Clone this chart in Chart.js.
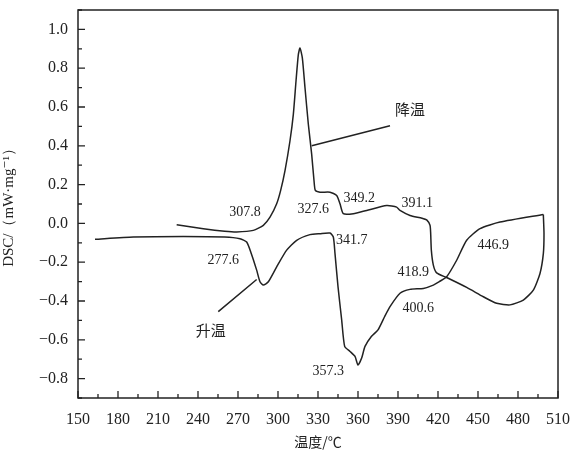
<!DOCTYPE html>
<html>
<head>
<meta charset="utf-8">
<script src="https://cdn.jsdelivr.net/npm/chart.js@4"></script>
<style>
  html, body { margin: 0; padding: 0; background: #fff; }
  #wrap { width: 574px; height: 450px; }
</style>
</head>
<body>
<div id="wrap"><canvas id="graficoDSC" width="574" height="450"></canvas></div>
<script>
// Curva de aquecimento (升温): temperatura (°C) e DSC (mW/mg)
const aquecT = [162.75, 191.5, 229, 260, 271.5, 276.5, 280, 284, 286.5, 289, 292.75, 299, 306.5, 314, 324, 331.5, 339, 341.5, 342.75, 345, 347.75, 350, 354, 357.75, 360, 362.75, 365.25, 370, 375, 380, 384, 391.5, 399, 409, 416.5, 421, 426.5, 434, 441.5, 451.5, 466.5, 499];
const aquecDSC = [-0.082, -0.07, -0.067, -0.07, -0.079, -0.096, -0.156, -0.241, -0.301, -0.318, -0.301, -0.224, -0.138, -0.087, -0.058, -0.053, -0.05, -0.07, -0.156, -0.326, -0.497, -0.634, -0.66, -0.686, -0.73, -0.694, -0.634, -0.583, -0.549, -0.48, -0.429, -0.36, -0.34, -0.335, -0.318, -0.3, -0.275, -0.19, -0.087, -0.027, 0.007, 0.046];

// Curva de resfriamento (降温)
const resfT = [224, 244, 260, 269, 281.5, 289, 294, 299, 302, 305.25, 309, 311.5, 313.5, 315.25, 316.5, 318.25, 320.25, 322.75, 325.25, 327, 328, 331.5, 339, 344, 346.5, 349, 356.5, 366.5, 381.5, 389, 391.5, 399, 408, 411.5, 414, 414.5, 415, 416.5, 419, 426.5, 441.5, 454, 464, 474, 484, 491.5, 496.5, 499, 499.5, 499];
const resfDSC = [-0.007, -0.027, -0.04, -0.044, -0.036, -0.01, 0.032, 0.101, 0.17, 0.272, 0.426, 0.562, 0.733, 0.87, 0.904, 0.853, 0.699, 0.511, 0.357, 0.221, 0.17, 0.161, 0.161, 0.144, 0.101, 0.05, 0.05, 0.067, 0.092, 0.084, 0.067, 0.041, 0.027, 0.018, -0.01, -0.05, -0.138, -0.215, -0.255, -0.279, -0.33, -0.378, -0.412, -0.42, -0.395, -0.344, -0.258, -0.156, -0.053, 0.046];

// Rótulos de temperatura nos picos
const rotulosTexto = ['307.8', '327.6', '349.2', '391.1', '277.6', '341.7', '418.9', '446.9', '400.6', '357.3'];
const rotulosX = [275.25, 326.5, 361, 404.5, 259, 355.3, 401.5, 461.5, 405.2, 337.7];
const rotulosY = [0.056, 0.075, 0.127, 0.101, -0.19, -0.087, -0.25, -0.113, -0.437, -0.763];

// Legendas das curvas com linha indicadora
const legendasTexto = ['降温', '升温'];
const legendasX = [399, 249.5];
const legendasY = [0.59, -0.549];
const setaX1 = [325.3, 255.2];
const setaY1 = [0.4, -0.455];
const setaX2 = [384, 284];
const setaY2 = [0.503, -0.289];

const eixoXTicks = [150, 180, 210, 240, 270, 300, 330, 360, 390, 420, 450, 480, 510];
const eixoYTicks = [-0.8, -0.6, -0.4, -0.2, 0.0, 0.2, 0.4, 0.6, 0.8, 1.0];

const fonteSerif = '"Liberation Serif", "DejaVu Serif", serif';
const fonteCJK = '"Noto Sans CJK SC", "Noto Sans", sans-serif';

const pontos = (xs, ys) => xs.map((x, i) => ({ x: x, y: ys[i] }));

// Plugin: moldura, marcas internas dos eixos e anotações
const moldura = {
  id: 'moldura',
  afterDraw(chart) {
    const c = chart.ctx;
    const a = chart.chartArea;
    const sx = chart.scales.x;
    const sy = chart.scales.y;
    c.save();
    c.strokeStyle = '#222';
    c.lineWidth = 1.5;
    c.strokeRect(a.left, a.top, a.right - a.left, a.bottom - a.top);

    // marcas dos eixos (para dentro)
    c.lineWidth = 1.3;
    c.beginPath();
    for (let v = 150; v <= 510; v += 15) {
      const px = sx.getPixelForValue(v);
      const len = (v % 30 === 0) ? 7 : 4;
      c.moveTo(px, a.bottom);
      c.lineTo(px, a.bottom - len);
    }
    for (let k = -9; k <= 11; k++) {
      const v = k / 10;
      const py = sy.getPixelForValue(v);
      const len = (k % 2 === 0) ? 7 : 4;
      c.moveTo(a.left, py);
      c.lineTo(a.left + len, py);
    }
    c.stroke();

    // rótulos numéricos
    c.fillStyle = '#222';
    c.font = '14px ' + fonteSerif;
    c.textAlign = 'center';
    c.textBaseline = 'middle';
    rotulosTexto.forEach((t, i) => {
      c.fillText(t, sx.getPixelForValue(rotulosX[i]), sy.getPixelForValue(rotulosY[i]));
    });

    // legendas das curvas
    c.font = '15px ' + fonteCJK;
    legendasTexto.forEach((t, i) => {
      c.fillText(t, sx.getPixelForValue(legendasX[i]), sy.getPixelForValue(legendasY[i]));
    });
    c.lineWidth = 1.5;
    c.beginPath();
    setaX1.forEach((x, i) => {
      c.moveTo(sx.getPixelForValue(x), sy.getPixelForValue(setaY1[i]));
      c.lineTo(sx.getPixelForValue(setaX2[i]), sy.getPixelForValue(setaY2[i]));
    });
    c.stroke();
    c.restore();
  }
};

const ctx = document.getElementById('graficoDSC').getContext('2d');

const config = {
  type: 'scatter',
  data: {
    datasets: [
      {
        label: '升温',
        data: pontos(aquecT, aquecDSC),
        showLine: true,
        borderColor: '#222',
        borderWidth: 1.5,
        pointRadius: 0,
        tension: 0.2
      },
      {
        label: '降温',
        data: pontos(resfT, resfDSC),
        showLine: true,
        borderColor: '#222',
        borderWidth: 1.5,
        pointRadius: 0,
        tension: 0.2
      }
    ]
  },
  options: {
    responsive: false,
    animation: false,
    layout: { padding: { top: 10, right: 16, left: 0, bottom: 0 } },
    plugins: {
      legend: { display: false },
      tooltip: { enabled: false }
    },
    scales: {
      x: {
        type: 'linear',
        min: 150,
        max: 510,
        afterBuildTicks: (s) => { s.ticks = eixoXTicks.map(v => ({ value: v })); },
        afterFit: (s) => { s.height = 52; s.paddingLeft = 0; s.paddingRight = 0; },
        grid: { display: false, drawTicks: false },
        border: { display: false },
        ticks: {
          color: '#222',
          padding: 12,
          maxRotation: 0,
          autoSkip: false,
          font: { family: fonteSerif, size: 16 }
        },
        title: {
          display: true,
          text: '温度/℃',
          color: '#222',
          padding: { top: 0, bottom: 0 },
          font: { family: fonteCJK, size: 14 }
        }
      },
      y: {
        type: 'linear',
        min: -0.9,
        max: 1.1,
        afterBuildTicks: (s) => { s.ticks = eixoYTicks.map(v => ({ value: v })); },
        afterFit: (s) => { s.width = 78; s.paddingTop = 0; s.paddingBottom = 0; },
        grid: { display: false, drawTicks: false },
        border: { display: false },
        ticks: {
          color: '#222',
          padding: 10,
          font: { family: fonteSerif, size: 16 },
          callback: (v) => (v < 0 ? '\u2212' + Math.abs(v).toFixed(1) : v.toFixed(1))
        },
        title: {
          display: true,
          text: 'DSC/（mW·mg⁻¹）',
          color: '#222',
          padding: { top: 0, bottom: 4 },
          font: { family: fonteSerif, size: 15 }
        }
      }
    }
  },
  plugins: [moldura]
};

// Renderizando o gráfico
const graficoDSC = new Chart(ctx, config);
</script>
</body>
</html>
